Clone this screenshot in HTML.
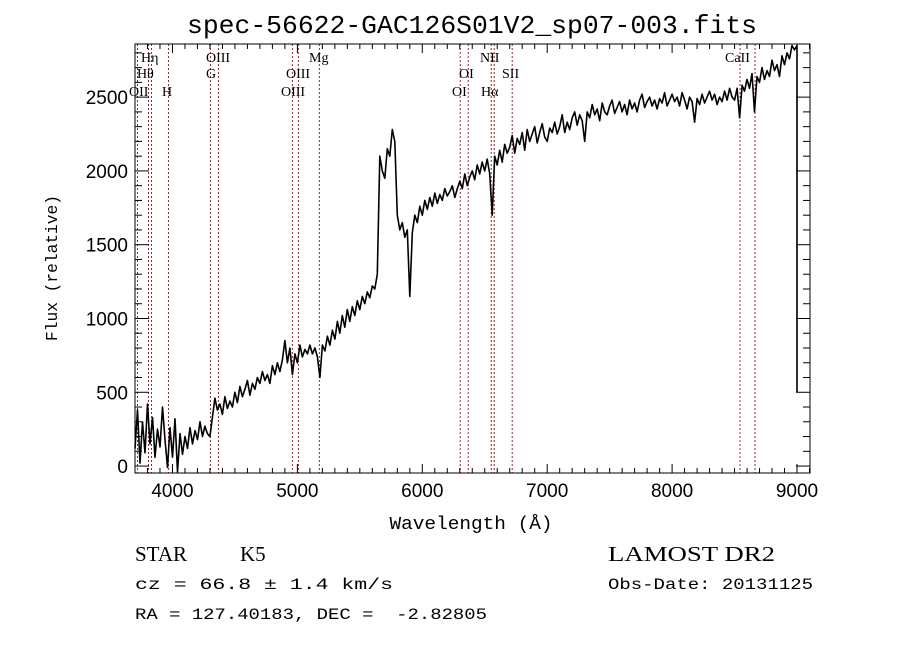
<!DOCTYPE html>
<html><head><meta charset="utf-8"><style>
html,body{margin:0;padding:0;background:#fff;}
svg{display:block;}
text{fill:#000;white-space:pre;}
</style></head><body>
<svg id="chart" width="900" height="649" viewBox="0 0 900 649" xmlns="http://www.w3.org/2000/svg" xml:space="preserve">
<rect x="0" y="0" width="900" height="649" fill="#fff"/>
<text x="472" y="33" font-family="Liberation Mono, monospace" font-size="26" text-anchor="middle" textLength="570" lengthAdjust="spacingAndGlyphs">spec-56622-GAC126S01V2_sp07-003.fits</text>
<g id="lines"></g>
<g id="axes"></g>
<path id="spec" fill="none" stroke="#000" stroke-width="1.6" stroke-linejoin="round"/>
<rect x="135" y="44" width="675" height="429" fill="none" stroke="#000" stroke-width="1"/>
<text transform="translate(57,268) rotate(-90)" font-family="Liberation Mono, monospace" font-size="17" text-anchor="middle" textLength="146" lengthAdjust="spacingAndGlyphs">Flux (relative)</text>
<text x="471" y="529" font-family="Liberation Mono, monospace" font-size="18" text-anchor="middle" textLength="163" lengthAdjust="spacingAndGlyphs">Wavelength (Å)</text>
<text x="135" y="561" font-family="Liberation Serif, serif" font-size="21">STAR</text>
<text x="240" y="561" font-family="Liberation Serif, serif" font-size="21">K5</text>
<text x="608" y="561" font-family="Liberation Serif, serif" font-size="21" textLength="167" lengthAdjust="spacingAndGlyphs">LAMOST DR2</text>
<text x="135" y="589" font-family="Liberation Mono, monospace" font-size="16" textLength="258" lengthAdjust="spacingAndGlyphs">cz = 66.8 ± 1.4 km/s</text>
<text x="608" y="589" font-family="Liberation Mono, monospace" font-size="16" textLength="205" lengthAdjust="spacingAndGlyphs">Obs-Date: 20131125</text>
<text x="135" y="619" font-family="Liberation Mono, monospace" font-size="16" textLength="352" lengthAdjust="spacingAndGlyphs">RA = 127.40183, DEC =  -2.82805</text>
</svg>
<script>
const wlStart = 3700;
const wlStep = 20;
const flux = [
120,380,20,300,90,420,150,330,60,250,
130,400,180,-10,260,60,320,-40,220,80,
200,120,260,150,240,180,300,200,270,220,
200,330,460,380,420,350,470,390,440,400,
500,430,540,470,520,580,480,560,520,600,
560,640,580,620,560,680,620,700,640,720,
850,700,800,620,760,700,820,740,790,760,
820,760,800,740,600,820,780,880,820,920,
860,980,900,1020,940,1060,980,1080,1020,1120,
1060,1150,1100,1180,1140,1220,1200,1300,2100,2000,
1950,2150,2100,2280,2200,1700,1600,1650,1550,1600,
1150,1580,1700,1650,1760,1700,1800,1740,1820,1760,
1850,1780,1840,1800,1880,1830,1860,1900,1820,1880,
1930,1880,1980,1900,1960,2000,1940,2040,1980,2060,
2000,2080,1980,1700,2100,2040,2140,2060,2180,2120,
2160,2240,2120,2220,2180,2260,2140,2280,2200,2250,
2300,2190,2260,2320,2230,2200,2290,2260,2330,2250,
2300,2380,2260,2330,2280,2360,2400,2310,2380,2340,
2200,2400,2360,2450,2380,2420,2340,2460,2400,2380,
2440,2480,2390,2430,2470,2400,2450,2380,2480,2420,
2460,2400,2480,2520,2430,2470,2500,2440,2480,2420,
2490,2460,2530,2440,2480,2520,2470,2500,2440,2530,
2480,2420,2500,2470,2330,2490,2450,2520,2460,2500,
2540,2480,2520,2450,2500,2470,2540,2480,2560,2500,
2480,2560,2360,2580,2540,2620,2560,2660,2400,2640,
2600,2700,2620,2680,2640,2750,2680,2720,2640,2780,
2720,2800,2760,2850,2820,2850
];
const tailWl = [9000, 9000];
const tailFlux = [2350, 500];
const lineWl = [3720,3808,3832,3968,4304,4368,4960,5008,5176,6304,6368,6552,6576,6720,8544,8664];
const lineLabels = ["Hη","Hθ","OII","H","OIII","G","OIII","OIII","Mg","OI","OI","NII","Hα","SII","CaII"];
const labelPos = [[141,62],[137,78],[129,96],[162,96],[206,62],[206,78],[286,78],[281,96],[309,62],[459,78],[452,96],[480,62],[481,96],[502,78],[725,62]];
const xTicks = [4000,5000,6000,7000,8000,9000];
const yTicks = [0,500,1000,1500,2000,2500];

const X0=135,X1=810,Y0=44,Y1=473;
const xMin=3700,xMax=9104,yMin=-47,yMax=2860;
function sx(w){return X0+(w-xMin)/(xMax-xMin)*(X1-X0);}
function sy(f){return Y1-(f-yMin)/(yMax-yMin)*(Y1-Y0);}
const NS="http://www.w3.org/2000/svg";
function mk(tag,attrs,parent){const e=document.createElementNS(NS,tag);for(const k in attrs)e.setAttribute(k,attrs[k]);parent.appendChild(e);return e;}

const lg=document.getElementById('lines');
lineWl.forEach(w=>{
  const l=mk('line',{x1:sx(w),x2:sx(w),y1:Y0,y2:Y1,stroke:'#8b2a2a','stroke-width':1,'stroke-dasharray':'2,2'},lg);
  
  
});
lineLabels.forEach((t,i)=>{
  const e=mk('text',{x:labelPos[i][0],y:labelPos[i][1],'font-family':'Liberation Serif, serif','font-size':14},lg);
  e.textContent=t;
  
  
});

const ag=document.getElementById('axes');
for(let w=3700;w<=9100;w+=100){
  const major=w%1000===0;
  const len=major?9:5;
  const t1=mk('line',{x1:sx(w),x2:sx(w),y1:Y1,y2:Y1-len,stroke:'#000'},ag);
  
  
  const t2=mk('line',{x1:sx(w),x2:sx(w),y1:Y0,y2:Y0+len,stroke:'#000'},ag);
  
  
}
xTicks.forEach(w=>{
  const e=mk('text',{x:sx(w),y:Y1+24,'font-family':'Liberation Sans, sans-serif','font-size':19,'text-anchor':'middle'},ag);
  e.textContent=w;
  
  
});
for(let f=0;f<=2800;f+=100){
  const major=f%500===0;
  const len=major?14:7;
  const t1=mk('line',{x1:X0,x2:X0+len,y1:sy(f),y2:sy(f),stroke:'#000'},ag);
  
  
  const t2=mk('line',{x1:X1,x2:X1-len,y1:sy(f),y2:sy(f),stroke:'#000'},ag);
  
  
}
yTicks.forEach(f=>{
  const e=mk('text',{x:X0-7,y:sy(f)+7,'font-family':'Liberation Sans, sans-serif','font-size':19,'text-anchor':'end'},ag);
  e.textContent=f;
  
  
});

let d='';
flux.forEach((f,i)=>{const w=wlStart+i*wlStep;d+=(i?'L':'M')+sx(w).toFixed(1)+','+sy(f).toFixed(1);});
tailWl.forEach((w,i)=>{d+='L'+sx(w).toFixed(1)+','+sy(tailFlux[i]).toFixed(1);});
document.getElementById('spec').setAttribute('d',d);
</script>
</body></html>
